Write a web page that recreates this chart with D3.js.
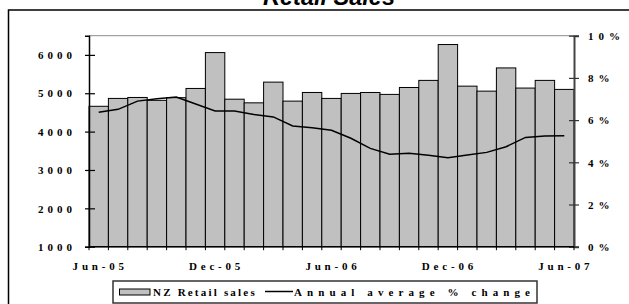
<!DOCTYPE html>
<html>
<head>
<meta charset="utf-8">
<script src="https://cdn.jsdelivr.net/npm/d3@7"></script>
<style>
  body { margin: 0; background: #fff; }
  svg { display: block; }
  .lab { font-family: "Liberation Serif", "Times New Roman", serif; font-weight: bold; font-size: 11px; fill: #000; }
</style>
</head>
<body>
<div id="chart"></div>
<script>
// Data
const months = ["Jun-05", "Jul-05", "Aug-05", "Sep-05", "Oct-05", "Nov-05", "Dec-05",
  "Jan-06", "Feb-06", "Mar-06", "Apr-06", "May-06", "Jun-06", "Jul-06", "Aug-06",
  "Sep-06", "Oct-06", "Nov-06", "Dec-06", "Jan-07", "Feb-07", "Mar-07", "Apr-07",
  "May-07", "Jun-07"];
const retailSales = [4660, 4865, 4890, 4815, 4885, 5125, 6060, 4845, 4750, 5290, 4795, 5020,
  4865, 4995, 5020, 4970, 5150, 5335, 6270, 5185, 5055, 5660, 5135, 5335, 5100];
const annualChange = [6.37, 6.51, 6.9, 7.01, 7.09, 6.76, 6.43, 6.43, 6.27, 6.15, 5.72, 5.64,
  5.52, 5.14, 4.66, 4.38, 4.43, 4.33, 4.22, 4.35, 4.47, 4.74, 5.18, 5.25, 5.26];
const leftTicks = [1000, 2000, 3000, 4000, 5000, 6000];
const rightTicks = [0, 2, 4, 6, 8, 10];
const xLabels = ["Jun-05", "Dec-05", "Jun-06", "Dec-06", "Jun-07"];

const W = 629, H = 304;
const plot = { left: 89, right: 574, top: 35.7, bottom: 246.7 };

const svg = d3.select("#chart").append("svg")
    .attr("width", W)
    .attr("height", H);

svg.append("rect").attr("width", W).attr("height", H).attr("fill", "#fff");

// Outer frame (runs past right and bottom edges)
svg.append("rect")
    .attr("x", 8.5).attr("y", 10)
    .attr("width", 640).attr("height", 320)
    .attr("fill", "none")
    .attr("stroke", "#000")
    .attr("stroke-width", 1.5);

// Title (clipped at the top like the original)
svg.append("text")
    .attr("x", 329)
    .attr("y", 5)
    .attr("text-anchor", "middle")
    .style("font-family", "'Liberation Sans', Arial, sans-serif")
    .style("font-weight", "bold")
    .style("font-style", "italic")
    .style("font-size", "23.5px")
    .text("Retail Sales");

// Scales
const x = d3.scaleBand()
    .domain(months)
    .range([plot.left, plot.right])
    .padding(0);

const yL = d3.scaleLinear()
    .domain([1000, 6500])
    .range([plot.bottom, plot.top]);

const yR = d3.scaleLinear()
    .domain([0, 10])
    .range([plot.bottom, plot.top]);

// Top border of plot area
svg.append("line")
    .attr("x1", plot.left).attr("x2", plot.right)
    .attr("y1", plot.top).attr("y2", plot.top)
    .attr("stroke", "#8c8c8c")
    .attr("stroke-width", 1);

// Bars
svg.selectAll(".bar")
    .data(retailSales)
    .enter()
    .append("rect")
    .attr("class", "bar")
    .attr("x", (d, i) => x(months[i]))
    .attr("y", d => yL(d))
    .attr("width", x.bandwidth())
    .attr("height", d => yL(1000) - yL(d))
    .attr("fill", "#c0c0c0")
    .attr("stroke", "#000")
    .attr("stroke-width", 1);

// Line
const line = d3.line()
    .x((d, i) => x(months[i]) + x.bandwidth() / 2)
    .y(d => yR(d));

svg.append("path")
    .datum(annualChange)
    .attr("d", line)
    .attr("fill", "none")
    .attr("stroke", "#000")
    .attr("stroke-width", 1.5);

// Left axis
const leftAxis = svg.append("g")
    .attr("transform", `translate(${plot.left},0)`)
    .call(d3.axisLeft(yL).tickValues(leftTicks).tickSize(4).tickFormat(d3.format("d")));
leftAxis.select(".domain").attr("stroke", "#000").attr("stroke-width", 1.5);
leftAxis.selectAll(".tick line").attr("x1", -4).attr("x2", 6).attr("stroke", "#000").attr("stroke-width", 1.2);
leftAxis.selectAll(".tick text")
    .attr("class", "lab")
    .attr("x", -13)
    .attr("dy", "0.34em")
    .style("letter-spacing", "4px");

// Right axis
const rightAxis = svg.append("g")
    .attr("transform", `translate(${plot.right},0)`)
    .call(d3.axisRight(yR).tickValues(rightTicks).tickSize(5).tickFormat(d => d + "%"));
rightAxis.select(".domain").attr("stroke", "#444").attr("stroke-width", 2);
rightAxis.selectAll(".tick line").attr("x1", -5).attr("x2", 5).attr("stroke", "#333").attr("stroke-width", 1.2);
rightAxis.selectAll(".tick text")
    .attr("class", "lab")
    .attr("x", 14)
    .attr("dy", "0.34em")
    .style("letter-spacing", "5px");

// Bottom axis: ticks at bar boundaries
const bottom = svg.append("g");
bottom.append("line")
    .attr("x1", plot.left).attr("x2", plot.right)
    .attr("y1", plot.bottom).attr("y2", plot.bottom)
    .attr("stroke", "#000")
    .attr("stroke-width", 1.5);
bottom.selectAll(".xt")
    .data(months.concat(["end"]))
    .enter()
    .append("line")
    .attr("x1", (d, i) => plot.left + i * x.step())
    .attr("x2", (d, i) => plot.left + i * x.step())
    .attr("y1", plot.bottom)
    .attr("y2", plot.bottom + 3.5)
    .attr("stroke", "#000")
    .attr("stroke-width", 1);
bottom.selectAll(".xl")
    .data(xLabels)
    .enter()
    .append("text")
    .attr("class", "lab")
    .attr("x", d => x(d) + x.bandwidth() / 2 + 1.5)
    .attr("y", 269.5)
    .attr("text-anchor", "middle")
    .style("letter-spacing", "3.8px")
    .text(d => d);

// Legend
const legend = svg.append("g");
legend.append("rect")
    .attr("x", 113).attr("y", 281)
    .attr("width", 424).attr("height", 22)
    .attr("fill", "#fff")
    .attr("stroke", "#333")
    .attr("stroke-width", 1.5);
legend.append("rect")
    .attr("x", 119.5).attr("y", 289)
    .attr("width", 30.5).attr("height", 6)
    .attr("fill", "#c0c0c0")
    .attr("stroke", "#000")
    .attr("stroke-width", 1);
legend.append("text")
    .attr("class", "lab")
    .attr("x", 153)
    .attr("y", 296)
    .style("letter-spacing", "2.2px")
    .text("NZ Retail sales");
legend.append("line")
    .attr("x1", 265).attr("x2", 293)
    .attr("y1", 291.5).attr("y2", 291.5)
    .attr("stroke", "#000")
    .attr("stroke-width", 1.5);
legend.append("text")
    .attr("class", "lab")
    .attr("x", 294)
    .attr("y", 296)
    .style("letter-spacing", "5.1px")
    .text("Annual average % change");
</script>
</body>
</html>
